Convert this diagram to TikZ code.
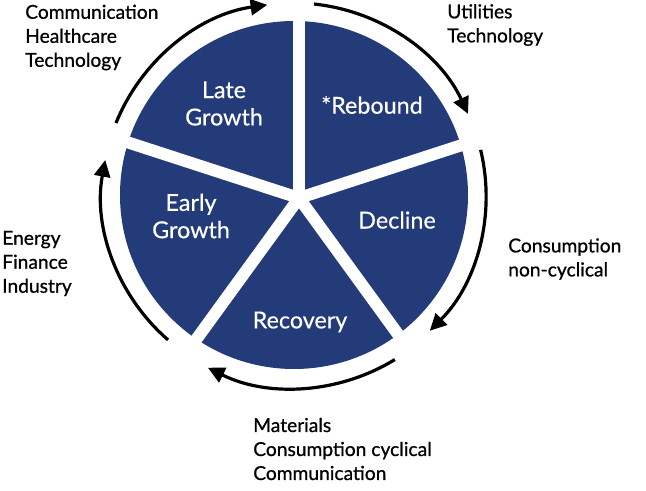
\documentclass[tikz,border=0pt]{standalone}
\usepackage{fontspec}
\setmainfont{Lato}
\newfontfamily\labelfont[FakeBold=0.8]{Lato}
\newfontfamily\phasefont[FakeBold=0.4]{Lato}
\usetikzlibrary{arrows.meta,calc}
\definecolor{pieblue}{HTML}{243B7A}
\begin{document}
\begin{tikzpicture}[x=0.75pt,y=0.75pt,
  cyclearrow/.style={line width=2.4pt,-{Triangle[length=12.5pt,width=12pt]}},
  sep/.style={white,line width=9pt},
  phase/.style={text=white,inner sep=0pt,align=center,font=\phasefont\fontsize{17.5pt}{20.5pt}\selectfont},
  sector/.style={inner sep=0pt,anchor=west,align=left,font=\labelfont\fontsize{14.4pt}{18pt}\selectfont}]
\useasboundingbox (0,0) rectangle (646,-491);
\coordinate (c) at (294,-195);
\coordinate (s) at (299,-198);
% pie
\fill[pieblue] (c) circle[radius=174];
\foreach \a in {90,18,-54,-126,162}
  \draw[sep] (s) -- ++(\a:182);
% cycle arrows
\draw[cyclearrow] ($(c)+(158:192)$) arc[start angle=158,end angle=98,radius=192];
\draw[cyclearrow] ($(c)+(84:192)$) arc[start angle=84,end angle=25,radius=192];
\draw[cyclearrow] ($(c)+(13.6:192)$) arc[start angle=13.6,end angle=-45,radius=192];
\draw[cyclearrow] ($(c)+(-58.5:193)$) arc[start angle=-58.5,end angle=-116.5,radius=193];
\draw[cyclearrow] ($(c)+(-131:192)$) arc[start angle=-131,end angle=-190.5,radius=192];
% phase labels
\node[phase] (late) at (224,-103.5) {Late\\Growth};
\node[phase] (rebound) at (372,-105) {*Rebound};
\node[phase] (early) at (191,-216) {Early\\Growth};
\node[phase] (decline) at (397,-220) {Decline};
\node[phase] (recovery) at (300,-322) {Recovery};
% sector labels
\node[sector] (l1) at (25,-37.5) {Communication\\Healthcare\\Technology};
\node[sector] (l2) at (447,-25) {Utilities\\Technology};
\node[sector] (l3) at (508,-259) {Consumption\\non-cyclical};
\node[sector] (l4) at (2,-263.5) {Energy\\Finance\\Industry};
\node[sector] (l5) at (253,-449) {Materials\\Consumption cyclical\\Communication};
\end{tikzpicture}
\end{document}
